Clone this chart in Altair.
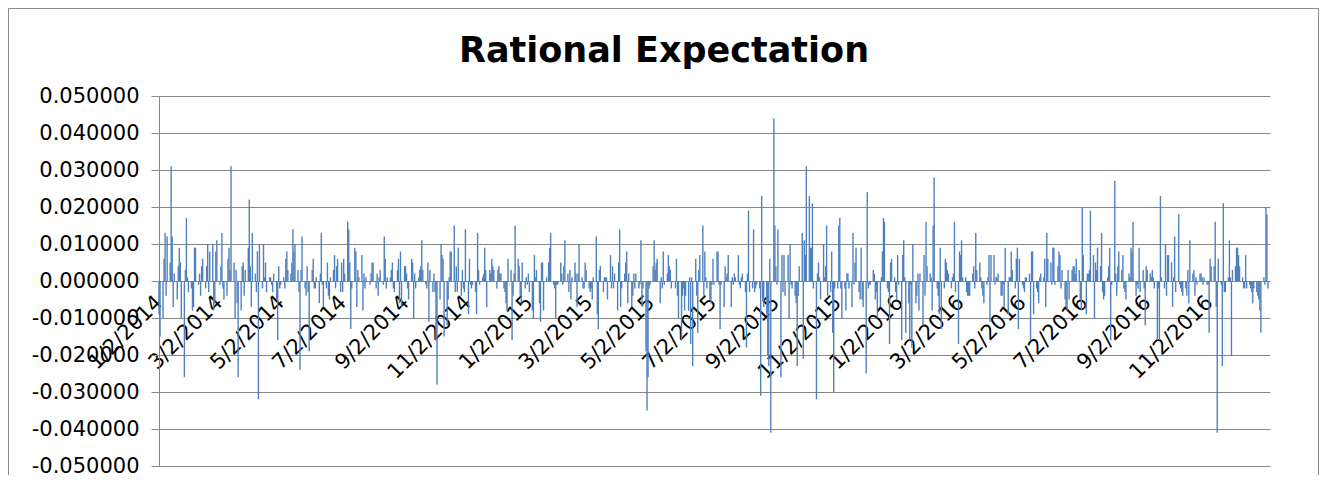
import altair as alt
import pandas as pd

# Daily values, in thousandths (0.001), one list per month
v2014_01 = [-9, -15, -10, 6, 13, -4, 12, 5, 31, 12, -7, 2, -5, 4, 9, 5, -10, -26, 3, 17, 1, -3]
v2014_02 = [-2, -8, -7, 9, 9, -1, 2, -4, 4, 6, -2, 4, 10, -3, 8, 10, -8, -6, 8, 11]
v2014_03 = [-1, 4, 13, -2, -5, -4, 6, 9, 3, 31, 5, -10, 3, -6, -26, -8, 4, 5, -4, 3, 9]
v2014_04 = [22, 4, -7, 13, 2, -3, 8, -32, 10, -2, 10, 1, 5, -3, 1, 1, -1, -3, 2, -5, -16, 4]
v2014_05 = [-2, -1, 1, -2, 6, 8, 3, 2, 5, 14, 8, 10, 3, -3, -24, 3, 12, -2, -4, 4, -3, -19]
v2014_06 = [3, 6, -2, -2, 1, -6, 2, 13, -1, -7, -2, 5, -4, -5, 1, 3, 7, -2, 4, 6, -3]
v2014_07 = [5, -3, 6, 2, 16, 14, 5, -13, -2, 9, 8, -7, 3, 1, 7, -8, 2, -2, 1, 0, -1, 2, 5]
v2014_08 = [5, -2, 2, -4, 1, 3, -1, 12, 6, -2, 1, 1, 3, 5, -2, -3, 3, 6, -6, 8, -7]
v2014_09 = [4, 4, 2, -2, -5, 6, 5, -10, 2, -2, 1, 3, 4, 11, 3, -1, -2, 5, -11, 3, -3, 2]
v2014_10 = [-3, -16, -28, -5, 10, 7, 6, -15, -12, -5, 1, 8, 8, 15, -3, 4, -3, 9, -4, 3, -2, -3, 14]
v2014_11 = [-9, 6, -1, -2, -1, -3, -9, 13, 3, -1, 1, 2, 9, 3, -7, 3, 2, 6, 4, 3]
v2014_12 = [-2, 3, 4, 2, 2, -2, -3, -6, -8, 6, 3, -16, -4, 2, 15, 6, 4, -4, -6, 5, -2, 1, -1]
v2015_01 = [2, -3, -8, -10, 7, 1, 3, -6, -11, 5, 5, -8, 1, 0, 5, 9, 13, -1, -2, -10, -1, -1]
v2015_02 = [5, 2, -1, 4, 11, 2, -3, 3, -5, 1, 5, 2, -7, 2, 10, 1, -2, -2, 5, 3]
v2015_03 = [-2, -3, -2, -5, 1, 12, -9, -13, 3, 4, -3, 1, 1, 1, -5, 7, -2, 4, -2, 2, -8, 5]
v2015_04 = [14, -7, -2, 2, 5, 8, -6, 2, -7, -4, 2, -2, 2, -2, -1, 11, -7, -2, -19, -35, -26, -2]
v2015_05 = [-1, 4, 11, 3, 5, 6, -6, 1, -2, 8, -1, 2, 7, 4, 3, -2, 0, -2, 6, -4, -10]
v2015_06 = [-16, -4, -2, -8, -4, -8, 1, -17, 1, -23, 6, -4, -14, 3, 7, 15, -4, 8, 1, -2, -5, -6]
v2015_07 = [-1, 6, -1, 8, 8, -1, -13, -1, -7, 4, 1, 2, 7, -7, 1, -1, 2, 1, 7, -1, -2, 1, 2]
v2015_08 = [-3, -18, 2, 19, -3, -2, 14, -3, -2, -1, -2, -31, 23, -5, -7, -9, -20, -23, 6, -41, 44]
v2015_09 = [15, 4, -1, 14, -26, 7, -3, 7, -4, 7, -10, 10, -1, -2, -4, -6, -23, -4, 4, 13, -21, 11]
v2015_10 = [7, 31, 23, 9, 9, 21, -2, -32, 2, 5, 1, -5, 10, 1, 4, 15, -4, -3, 8, -14, -30, -2]
v2015_11 = [-2, 15, 17, -2, -10, -2, -8, 2, 2, -2, -7, 13, -1, 5, 9, -3, -5, 9, -5, -7, -25]
v2015_12 = [24, -2, -1, -1, 3, 2, -5, -3, -10, -7, 1, 8, 17, 16, -2, -3, -17, 5, 6, 1, -3, -5, 7]
v2016_01 = [-1, -16, 7, 11, 1, -14, -6, -16, -1, -18, 10, -6, -4, 2, -8, 2, -12, 7, -4, 16, 4]
v2016_02 = [2, 1, -8, 15, 28, -2, -4, -9, 9, -13, -2, 6, 5, 3, 2, -2, 1, 2, 16, -3, -17]
v2016_03 = [8, 7, 11, 1, 1, -3, -4, -4, -4, 2, 4, -2, 13, 3, 5, 1, -2, -4, -6, -1, 1, 7, -11]
v2016_04 = [7, 7, -1, 1, 1, 2, -4, -4, -1, -7, 9, -9, 1, 1, 8, 3, -2, 6, 9, -13, 6]
v2016_05 = [-1, -2, -3, 1, 1, 2, -16, 8, 8, -9, -2, -3, -6, 1, 2, 1, 6, -7, 13, 6, 5, -1]
v2016_06 = [9, 9, -1, 4, 8, 7, -2, 3, -5, -7, -8, 3, -5, 3, 4, 4, 2, 6, 3, -5, -8, 20]
v2016_07 = [7, -9, 2, 2, 3, 19, 7, -10, 5, 3, 9, 4, 13, -3, -5, -4, 1, 4, 9, -16, -1]
v2016_08 = [27, 2, -4, 4, 8, 3, 7, -2, -3, -5, 2, 1, 9, 8, 16, -4, -1, -2, 9, -3, 3, -2, -12]
v2016_09 = [4, 3, 2, 1, 3, 1, -2, -16, -2, -16, 23, 1, -2, 10, -4, 7, 7, 5, -7, 1, 12, -3]
v2016_10 = [18, -1, -2, -3, -4, -2, -4, 3, -6, 11, 2, 3, -4, 1, -1, 2, 2, 1, -1, 1, -1]
v2016_11 = [-1, -14, 6, 4, 4, 16, -7, -41, 6, -1, -23, 21, -3, -3, 1, 11, 1, -20, 3, 4, 9, 9]
v2016_12 = [7, 4, 1, -2, -2, 7, -2, -1, -2, -3, -6, -2, -3, -4, -5, -8, -14, 1, -1, 20, 18, -2]

blocks = [
    ("2014-01-02", v2014_01), ("2014-02-01", v2014_02), ("2014-03-01", v2014_03),
    ("2014-04-01", v2014_04), ("2014-05-01", v2014_05), ("2014-06-01", v2014_06),
    ("2014-07-01", v2014_07), ("2014-08-01", v2014_08), ("2014-09-01", v2014_09),
    ("2014-10-01", v2014_10), ("2014-11-01", v2014_11), ("2014-12-01", v2014_12),
    ("2015-01-01", v2015_01), ("2015-02-01", v2015_02), ("2015-03-01", v2015_03),
    ("2015-04-01", v2015_04), ("2015-05-01", v2015_05), ("2015-06-01", v2015_06),
    ("2015-07-01", v2015_07), ("2015-08-01", v2015_08), ("2015-09-01", v2015_09),
    ("2015-10-01", v2015_10), ("2015-11-01", v2015_11), ("2015-12-01", v2015_12),
    ("2016-01-01", v2016_01), ("2016-02-01", v2016_02), ("2016-03-01", v2016_03),
    ("2016-04-01", v2016_04), ("2016-05-01", v2016_05), ("2016-06-01", v2016_06),
    ("2016-07-01", v2016_07), ("2016-08-01", v2016_08), ("2016-09-01", v2016_09),
    ("2016-10-01", v2016_10), ("2016-11-01", v2016_11), ("2016-12-01", v2016_12),
]

# x tick labels (every two months) and y tick values
x_tick_months = [(2014, 1), (2014, 3), (2014, 5), (2014, 7), (2014, 9), (2014, 11),
                 (2015, 1), (2015, 3), (2015, 5), (2015, 7), (2015, 9), (2015, 11),
                 (2016, 1), (2016, 3), (2016, 5), (2016, 7), (2016, 9), (2016, 11)]
y_ticks = [-0.05, -0.04, -0.03, -0.02, -0.01, 0.0, 0.01, 0.02, 0.03, 0.04, 0.05]
title_text = "Rational Expectation"

rows = []
for start, vals in blocks:
    s = pd.Timestamp(start)
    days = pd.bdate_range(s, s + pd.offsets.MonthEnd(0))
    for d, v in zip(days, vals):
        rows.append({"date": d.strftime("%Y/%m/%d"), "value": v / 1000.0})
df = pd.DataFrame(rows)

W, H = 1111, 370
FONT = "DejaVu Sans"
GRID = "#868686"
BLUE = "#4F81BD"

bars = alt.Chart(df).mark_rule(color=BLUE, strokeWidth=1.4).encode(
    x=alt.X(
        "date:T",
        scale=alt.Scale(domain=[alt.DateTime(year=2014, month=1, date=2),
                                alt.DateTime(year=2017, month=1, date=1)]),
        axis=alt.Axis(
            values=[alt.DateTime(year=y, month=m, date=2) for y, m in x_tick_months],
            format="%-m/%-d/%Y",
            labelAngle=315,
            labelAlign="right",
            labelBaseline="middle",
            labelPadding=18,
            labelFont=FONT,
            labelFontSize=21,
            labelColor="#000000",
            labelOverlap=False,
            labelFlush=False,
            ticks=False,
            grid=False,
            domainColor=GRID,
            offset=-H / 2,
            title=None,
        ),
    ),
    y=alt.Y(
        "value:Q",
        scale=alt.Scale(domain=[-0.05, 0.05], nice=False, zero=False),
        axis=alt.Axis(
            values=y_ticks,
            labelExpr="replace(format(datum.value, '.6f'), '\u2212', '-')",
            labelFont=FONT,
            labelFontSize=21,
            labelColor="#000000",
            labelPadding=12,
            tickSize=8,
            tickColor=GRID,
            domainColor=GRID,
            gridColor=GRID,
            grid=True,
            title=None,
        ),
    ),
    y2=alt.datum(0),
)

title = alt.Chart(alt.Data(values=[{"t": title_text}])).mark_text(
    font=FONT, fontSize=35, fontWeight="bold", color="#000000",
    align="center", baseline="alphabetic"
).encode(text="t:N", x=alt.value(505), y=alt.value(-34))

border = alt.Chart(alt.Data(values=[{"k": 1}])).mark_rect(
    filled=False, stroke="#8c8c8c", strokeWidth=1
).encode(
    x=alt.value(-150.5), x2=alt.value(1159.5), y=alt.value(-87.5), y2=alt.value(460)
)

chart = alt.layer(border, bars, title).properties(
    width=W,
    height=H,
    autosize=alt.AutoSizeParams(type="none"),
    padding={"left": 151, "top": 88, "right": 49, "bottom": 9},
).configure_view(stroke=None).configure_axis(domainWidth=1, gridWidth=1)

chart.save("out.html", embed_options={"renderer": "svg", "actions": False, "defaultStyle": False})
